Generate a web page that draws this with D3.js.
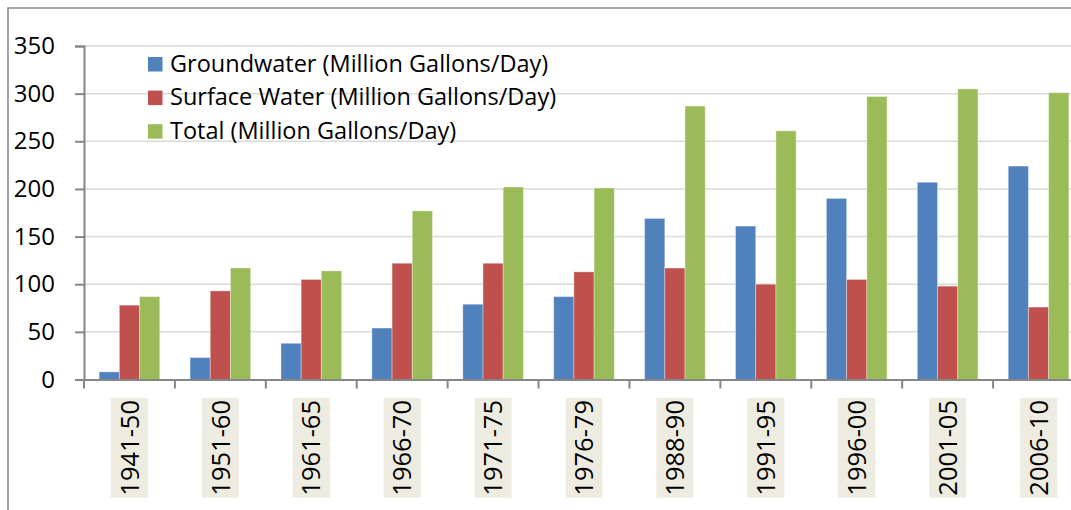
<!DOCTYPE html>
<html>
<head>
<meta charset="utf-8">
<script src="https://cdn.jsdelivr.net/npm/d3@7"></script>
<style>
  body { margin: 0; background: #fff; }
  svg { display: block; font-family: "Open Sans", sans-serif; }
</style>
</head>
<body>
<div id="chart"></div>
<script>
// data
var periods = ["1941-50", "1951-60", "1961-65", "1966-70", "1971-75", "1976-79",
               "1988-90", "1991-95", "1996-00", "2001-05", "2006-10"];
var groundwater = [8, 23, 38, 54, 79, 87, 169, 161, 190, 207, 224];
var surfaceWater = [78, 93, 105, 122, 122, 113, 117, 100, 105, 98, 76];
var total = [87, 117, 114, 177, 202, 201, 287, 261, 297, 305, 301];
var seriesNames = ["Groundwater (Million Gallons/Day)",
                   "Surface Water (Million Gallons/Day)",
                   "Total (Million Gallons/Day)"];
var yTicks = [0, 50, 100, 150, 200, 250, 300, 350];

var colors = ["#4f81bd", "#c0504d", "#9bbb59"];
var seriesValues = [groundwater, surfaceWater, total];

var width = 1071, height = 510;
var plotLeft = 84, plotRight = 1084, plotTop = 46, plotBottom = 379.5;

var svg = d3.select("#chart").append("svg")
  .attr("width", width)
  .attr("height", height);

// outer frame (cut off on the right and bottom like the reference)
svg.append("rect")
  .attr("x", 8).attr("y", 8)
  .attr("width", 1200).attr("height", 600)
  .attr("fill", "none")
  .attr("stroke", "#868686")
  .attr("stroke-width", 1.5);

var x = d3.scaleBand().domain(periods).range([plotLeft, plotRight]);
var bw = x.bandwidth();
var x1 = d3.scaleBand().domain(d3.range(3)).range([bw / 6, bw * 5 / 6]);
var y = d3.scaleLinear().domain([0, 350]).range([plotBottom, plotTop]);

// gridlines
svg.append("g")
  .selectAll("line")
  .data(yTicks.slice(1))
  .enter().append("line")
  .attr("x1", plotLeft).attr("x2", plotRight)
  .attr("y1", function(d) { return y(d); })
  .attr("y2", function(d) { return y(d); })
  .attr("stroke", "#d9d9d9")
  .attr("stroke-width", 1.5);

// bars
var groups = svg.append("g")
  .selectAll("g")
  .data(periods)
  .enter().append("g")
  .attr("transform", function(d) { return "translate(" + x(d) + ",0)"; });

groups.selectAll("rect")
  .data(function(d, i) {
    return seriesValues.map(function(vals, s) { return { s: s, v: vals[i] }; });
  })
  .enter().append("rect")
  .attr("x", function(d) { return x1(d.s); })
  .attr("width", x1.bandwidth())
  .attr("y", function(d) { return y(d.v); })
  .attr("height", function(d) { return y(0) - y(d.v); })
  .attr("fill", function(d) { return colors[d.s]; })
  .attr("stroke", "rgba(255,255,255,0.35)")
  .attr("stroke-width", 1);

// y axis
var yAxis = svg.append("g")
  .attr("transform", "translate(" + plotLeft + ",0)")
  .call(d3.axisLeft(y).tickValues(yTicks).tickSize(9).tickPadding(20));
yAxis.select(".domain").attr("stroke", "#868686").attr("stroke-width", 2);
yAxis.selectAll(".tick line").attr("stroke", "#868686").attr("stroke-width", 2);
yAxis.selectAll(".tick text")
  .attr("fill", "#000")
  .attr("font-size", "24px")
  .attr("font-family", "Open Sans, sans-serif");

// x axis, ticks on category boundaries
var xAxis = svg.append("g")
  .attr("transform", "translate(0," + plotBottom + ")")
  .call(d3.axisBottom(x).tickSize(9).tickSizeOuter(0).tickFormat(""));
xAxis.selectAll(".tick").attr("transform", function(d) { return "translate(" + x(d) + ",0)"; });
xAxis.select(".domain").attr("stroke", "#868686").attr("stroke-width", 2);
xAxis.selectAll(".tick line").attr("stroke", "#868686").attr("stroke-width", 2);

// rotated category labels with shaded boxes
var labels = svg.append("g")
  .selectAll("g")
  .data(periods)
  .enter().append("g")
  .attr("transform", function(d) { return "translate(" + (x(d) + bw / 2) + ",398) rotate(-90)"; });

labels.append("rect").attr("fill", "#eeece1");
labels.append("text")
  .attr("text-anchor", "end")
  .attr("dy", "0.36em")
  .attr("x", -2)
  .attr("font-size", "25.5px")
  .attr("fill", "#000")
  .text(function(d) { return d; });
labels.each(function() {
  var g = d3.select(this);
  var len = g.select("text").node().getComputedTextLength();
  g.select("rect")
    .attr("x", -len - 4).attr("width", len + 4)
    .attr("y", -18.5).attr("height", 37);
});

// legend
var legend = svg.append("g")
  .selectAll("g")
  .data(seriesNames)
  .enter().append("g")
  .attr("transform", function(d, i) { return "translate(148," + (57 + i * 33.6) + ")"; });
legend.append("rect")
  .attr("width", 14.5).attr("height", 14.5)
  .attr("fill", function(d, i) { return colors[i]; });
legend.append("text")
  .attr("x", 22)
  .attr("y", 14.5)
  .attr("font-size", "23.5px")
  .attr("fill", "#000")
  .text(function(d) { return d; });
</script>
</body>
</html>
